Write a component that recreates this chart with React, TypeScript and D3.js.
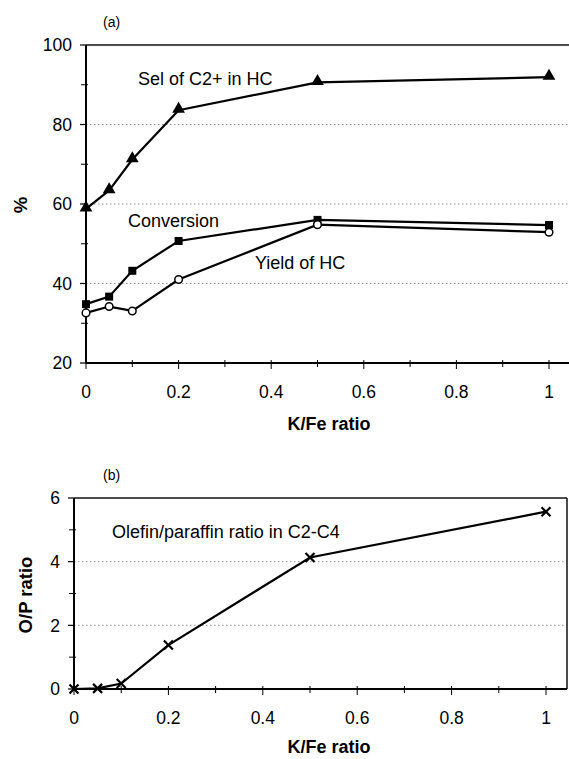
import React, { useEffect, useRef } from 'react';
import * as d3 from 'd3';

const W = 569;
const H = 759;

const kFe = [0, 0.05, 0.1, 0.2, 0.5, 1];
const selC2 = [58.8, 63.4, 71.2, 83.6, 90.6, 91.9];
const conversion = [34.8, 36.7, 43.2, 50.7, 56.0, 54.7];
const yieldHC = [32.6, 34.2, 33.1, 41.0, 54.8, 52.9];
const olefinParaffin = [0.0, 0.02, 0.17, 1.38, 4.13, 5.57];

const xTicks = [0, 0.2, 0.4, 0.6, 0.8, 1];
const yTicksA = [20, 40, 60, 80, 100];
const yTicksB = [0, 2, 4, 6];

const FONT = '"Liberation Sans", Arial, sans-serif';

const App = () => {
  const ref = useRef<SVGSVGElement>(null);

  useEffect(() => {
    const svg = d3.select(ref.current);
    svg.selectAll('*').remove();

    const drawPanel = (opts: any) => {
      const { left, right, top, bottom, x1px, yDomain, yTicks, yMinor, label, yLabel, labelY, yLabelX, xTitleY, hasRight } = opts;
      const x = d3.scaleLinear().domain([0, 1]).range([left, x1px]);
      const y = d3.scaleLinear().domain(yDomain).range([bottom, top]);
      const g = svg.append('g');

      // dotted gridlines
      yTicks.slice(1, -1).forEach((t: number) => {
        g.append('line')
          .attr('x1', left).attr('x2', right)
          .attr('y1', y(t)).attr('y2', y(t))
          .attr('stroke', '#777').attr('stroke-width', 0.8)
          .attr('stroke-dasharray', '1.5,2.5');
      });
      // frame
      g.append('line').attr('x1', left).attr('x2', right).attr('y1', top).attr('y2', top)
        .attr('stroke', '#111').attr('stroke-width', 1.5);
      if (hasRight) {
        g.append('line').attr('x1', right).attr('x2', right).attr('y1', top).attr('y2', bottom)
          .attr('stroke', '#111').attr('stroke-width', 1.5);
      }
      g.append('line').attr('x1', left).attr('x2', right).attr('y1', bottom).attr('y2', bottom)
        .attr('stroke', '#000').attr('stroke-width', 2);
      g.append('line').attr('x1', left).attr('x2', left).attr('y1', top).attr('y2', bottom)
        .attr('stroke', '#000').attr('stroke-width', 2);

      // y ticks (major + minor)
      yMinor.forEach((t: number) => {
        g.append('line').attr('x1', left - 5).attr('x2', left + 2).attr('y1', y(t)).attr('y2', y(t))
          .attr('stroke', '#000').attr('stroke-width', 1);
      });
      yTicks.forEach((t: number) => {
        g.append('line').attr('x1', left - 6).attr('x2', left).attr('y1', y(t)).attr('y2', y(t))
          .attr('stroke', '#000').attr('stroke-width', 1.2);
        g.append('text').attr('x', left - 14).attr('y', y(t)).attr('dy', '0.36em')
          .attr('text-anchor', 'end').attr('font-family', FONT).attr('font-size', 17.5)
          .text(String(t));
      });
      // x ticks every 0.1
      d3.range(0, 11).forEach((i) => {
        const v = i / 10;
        g.append('line').attr('x1', x(v)).attr('x2', x(v))
          .attr('y1', bottom - 3).attr('y2', bottom + (i % 2 === 0 ? 6 : 4))
          .attr('stroke', '#000').attr('stroke-width', 1);
      });
      xTicks.forEach((t) => {
        g.append('text').attr('x', x(t)).attr('y', bottom + 35)
          .attr('text-anchor', 'middle').attr('font-family', FONT).attr('font-size', 17.5)
          .text(String(t));
      });
      g.append('text').attr('x', 329).attr('y', xTitleY)
        .attr('text-anchor', 'middle').attr('font-family', FONT).attr('font-size', 18)
        .attr('font-weight', 'bold').text('K/Fe ratio');
      g.append('text')
        .attr('transform', `translate(${yLabelX},${labelY}) rotate(-90)`)
        .attr('text-anchor', 'middle').attr('font-family', FONT).attr('font-size', 18.5)
        .attr('font-weight', 'bold').text(yLabel);
      g.append('text').attr('x', 103).attr('y', top - 18)
        .attr('font-family', FONT).attr('font-size', 14).text(label);
      return { g, x, y };
    };

    // Panel (a)
    const a = drawPanel({
      left: 86, right: 569, top: 45, bottom: 363, x1px: 549,
      yDomain: [20, 100], yTicks: yTicksA, yMinor: [30, 50, 70, 90],
      label: '(a)', yLabel: '%', labelY: 205, yLabelX: 27, xTitleY: 430, hasRight: false,
    });

    const series = [
      { values: selC2, marker: 'triangle' },
      { values: conversion, marker: 'square' },
      { values: yieldHC, marker: 'circle' },
    ];
    series.forEach((s) => {
      const line = d3.line<number>().x((_, i) => a.x(kFe[i])).y((d) => a.y(d));
      a.g.append('path').attr('d', line(s.values) as string)
        .attr('fill', 'none').attr('stroke', '#000').attr('stroke-width', 2.2);
      s.values.forEach((v, i) => {
        const cx = a.x(kFe[i]);
        const cy = a.y(v);
        if (s.marker === 'triangle') {
          a.g.append('path')
            .attr('d', d3.symbol().type(d3.symbolTriangle).size(70)() as string)
            .attr('transform', `translate(${cx},${cy - 1})`).attr('fill', '#000');
        } else if (s.marker === 'square') {
          a.g.append('rect').attr('x', cx - 4).attr('y', cy - 4).attr('width', 8).attr('height', 8)
            .attr('fill', '#000');
        } else {
          a.g.append('circle').attr('cx', cx).attr('cy', cy).attr('r', 3.8)
            .attr('fill', '#fff').attr('stroke', '#000').attr('stroke-width', 1.5);
        }
      });
    });

    a.g.append('text').attr('x', 138).attr('y', 85).attr('font-family', FONT).attr('font-size', 18)
      .text('Sel of C2+ in HC');
    a.g.append('text').attr('x', 128).attr('y', 227).attr('font-family', FONT).attr('font-size', 18)
      .text('Conversion');
    a.g.append('text').attr('x', 255).attr('y', 269).attr('font-family', FONT).attr('font-size', 18)
      .text('Yield of HC');

    // Panel (b)
    const b = drawPanel({
      left: 74, right: 567, top: 498, bottom: 689, x1px: 546,
      yDomain: [0, 6], yTicks: yTicksB, yMinor: [1, 3, 5],
      label: '(b)', yLabel: 'O/P ratio', labelY: 595, yLabelX: 32, xTitleY: 753, hasRight: true,
    });
    const lineB = d3.line<number>().x((_, i) => b.x(kFe[i])).y((d) => b.y(d));
    b.g.append('path').attr('d', lineB(olefinParaffin) as string)
      .attr('fill', 'none').attr('stroke', '#000').attr('stroke-width', 2.2);
    olefinParaffin.forEach((v, i) => {
      const cx = b.x(kFe[i]);
      const cy = b.y(v);
      b.g.append('path').attr('d', `M${cx - 4.5},${cy - 4.5}L${cx + 4.5},${cy + 4.5}M${cx - 4.5},${cy + 4.5}L${cx + 4.5},${cy - 4.5}`)
        .attr('stroke', '#000').attr('stroke-width', 2.2);
    });
    b.g.append('text').attr('x', 112).attr('y', 538).attr('font-family', FONT).attr('font-size', 18)
      .text('Olefin/paraffin ratio in C2-C4');
  }, []);

  return (
    <svg ref={ref} width={W} height={H}
      style={{ position: 'absolute', left: 0, top: 0, background: '#fff' }} />
  );
};

export default App;
